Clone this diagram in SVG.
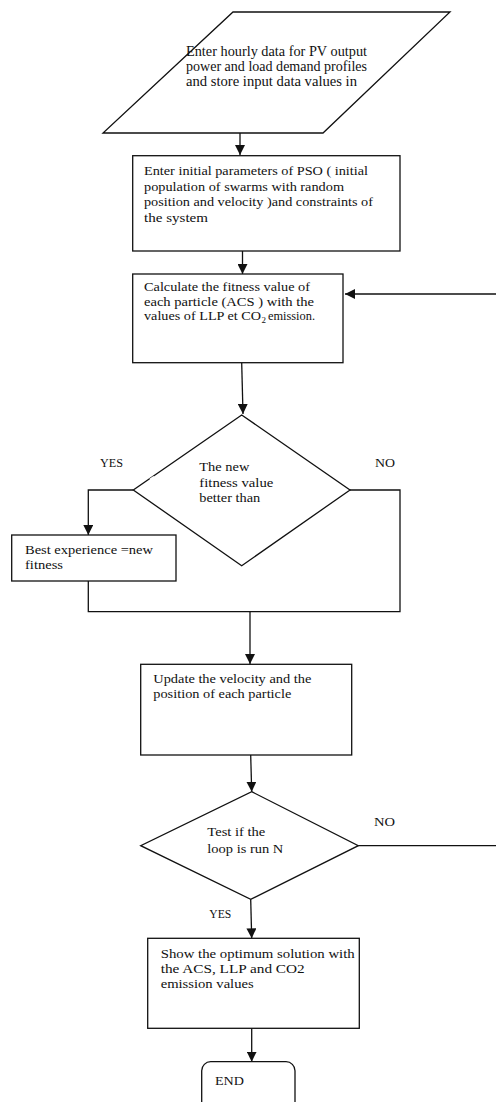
<svg xmlns="http://www.w3.org/2000/svg" width="496" height="1102" viewBox="0 0 496 1102">
<style>
.s{fill:#fff;stroke:#111;stroke-width:1.3}
.c{fill:none;stroke:#111;stroke-width:1.3}
.t{font-family:"Liberation Serif","Times New Roman",serif;font-size:13.5px;fill:#111}
.p{font-size:15.5px}
.l{font-size:13px}
.sub{font-size:9px}
</style>
<defs>
<marker id="a" viewBox="0 0 10 10" refX="10" refY="5" markerWidth="10" markerHeight="10" markerUnits="userSpaceOnUse" orient="auto">
<path d="M0,0 L10,5 L0,10 z" fill="#111"/>
</marker>
</defs>
<rect width="496" height="1102" fill="#fff"/>
<g id="connectors">
<path class="c" d="M240,126 V155" marker-end="url(#a)"/>
<path class="c" d="M242.5,251 V274" marker-end="url(#a)"/>
<path class="c" d="M496,294 H345" marker-end="url(#a)"/>
<path class="c" d="M241.7,363 L243,414" marker-end="url(#a)"/>
<path class="c" d="M133.3,490 H88.3 V535" marker-end="url(#a)"/>
<path class="c" d="M88.3,581 V611.7 H400 V490 H350"/>
<path class="c" d="M250,611.7 V664" marker-end="url(#a)"/>
<path class="c" d="M250.7,755 L251.7,791.7" marker-end="url(#a)"/>
<path class="c" d="M358.3,845.7 H496"/>
<path class="c" d="M250.7,899.3 L251.7,938.3" marker-end="url(#a)"/>
<path class="c" d="M251.7,1028.3 V1061.7" marker-end="url(#a)"/>
</g>
<g id="input">
<polygon class="s" points="233,12 450,12 323,133 103,133"/>
<text class="t p" x="186" y="55.5" textLength="181" lengthAdjust="spacingAndGlyphs">Enter hourly data for PV output</text>
<text class="t p" x="186" y="70.5" textLength="181" lengthAdjust="spacingAndGlyphs">power and load demand profiles</text>
<text class="t p" x="186" y="85.5" textLength="171" lengthAdjust="spacingAndGlyphs">and store input data values in</text>
</g>
<g id="init">
<rect class="s" x="132.7" y="155.7" width="267.3" height="95.3"/>
<text class="t" x="144" y="175" textLength="224" lengthAdjust="spacingAndGlyphs">Enter initial parameters of PSO ( initial</text>
<text class="t" x="144" y="190.5" textLength="200" lengthAdjust="spacingAndGlyphs">population of swarms with random</text>
<text class="t" x="144" y="206" textLength="229" lengthAdjust="spacingAndGlyphs">position and velocity )and constraints of</text>
<text class="t" x="144" y="221.5" textLength="64" lengthAdjust="spacingAndGlyphs">the system</text>
</g>
<g id="fitness">
<rect class="s" x="132.7" y="274" width="210.3" height="88.7"/>
<text class="t" x="144" y="291" textLength="166" lengthAdjust="spacingAndGlyphs">Calculate the fitness value of</text>
<text class="t" x="144" y="305.5" textLength="170" lengthAdjust="spacingAndGlyphs">each particle (ACS ) with the</text>
<text class="t" x="144" y="320" textLength="117" lengthAdjust="spacingAndGlyphs">values of LLP et CO</text>
<text class="t sub" x="261.5" y="323">2</text>
<text class="t" x="268" y="320" textLength="47" lengthAdjust="spacingAndGlyphs">emission.</text>
</g>
<g id="decision1">
<polygon class="s" points="241.7,415 350,490 241.7,565.7 133.3,490"/>
<line x1="150" y1="479.5" x2="154" y2="476.7" stroke="#fff" stroke-width="2"/>
<text class="t" x="199.3" y="471" textLength="50" lengthAdjust="spacingAndGlyphs">The new</text>
<text class="t" x="199.3" y="486.5" textLength="74" lengthAdjust="spacingAndGlyphs">fitness value</text>
<text class="t" x="199.3" y="502" textLength="61" lengthAdjust="spacingAndGlyphs">better than</text>
<text class="t l" x="100" y="467" textLength="23" lengthAdjust="spacingAndGlyphs">YES</text>
<text class="t l" x="375" y="467" textLength="20" lengthAdjust="spacingAndGlyphs">NO</text>
</g>
<g id="best">
<rect class="s" x="11.7" y="535" width="164.3" height="46"/>
<text class="t" x="25" y="554" textLength="128" lengthAdjust="spacingAndGlyphs">Best experience =new</text>
<text class="t" x="25" y="568.5" textLength="38" lengthAdjust="spacingAndGlyphs">fitness</text>
</g>
<g id="update">
<rect class="s" x="140.7" y="664.3" width="211" height="90.7"/>
<text class="t" x="153.3" y="683" textLength="158" lengthAdjust="spacingAndGlyphs">Update the velocity and the</text>
<text class="t" x="153.3" y="697.5" textLength="138" lengthAdjust="spacingAndGlyphs">position of each particle</text>
</g>
<g id="decision2">
<polygon class="s" points="251.7,791.7 358.3,845.7 250.7,899.3 140.7,845.7"/>
<text class="t" x="207.3" y="836" textLength="58" lengthAdjust="spacingAndGlyphs">Test if the</text>
<text class="t" x="207.3" y="852.5" textLength="76" lengthAdjust="spacingAndGlyphs">loop is run N</text>
<text class="t l" x="374" y="826" textLength="21" lengthAdjust="spacingAndGlyphs">NO</text>
<text class="t l" x="209.3" y="918" textLength="22" lengthAdjust="spacingAndGlyphs">YES</text>
</g>
<g id="show">
<rect class="s" x="147.7" y="938.3" width="211.6" height="90"/>
<text class="t" x="160.7" y="958.3" textLength="194" lengthAdjust="spacingAndGlyphs">Show the optimum solution with</text>
<text class="t" x="160.7" y="973.3" textLength="144" lengthAdjust="spacingAndGlyphs">the ACS, LLP and CO2</text>
<text class="t" x="160.7" y="987.8" textLength="93" lengthAdjust="spacingAndGlyphs">emission values</text>
</g>
<g id="end">
<rect class="s" x="201.7" y="1061.7" width="93.3" height="60" rx="9"/>
<text class="t l" x="215" y="1085" textLength="29" lengthAdjust="spacingAndGlyphs">END</text>
</g>
</svg>
